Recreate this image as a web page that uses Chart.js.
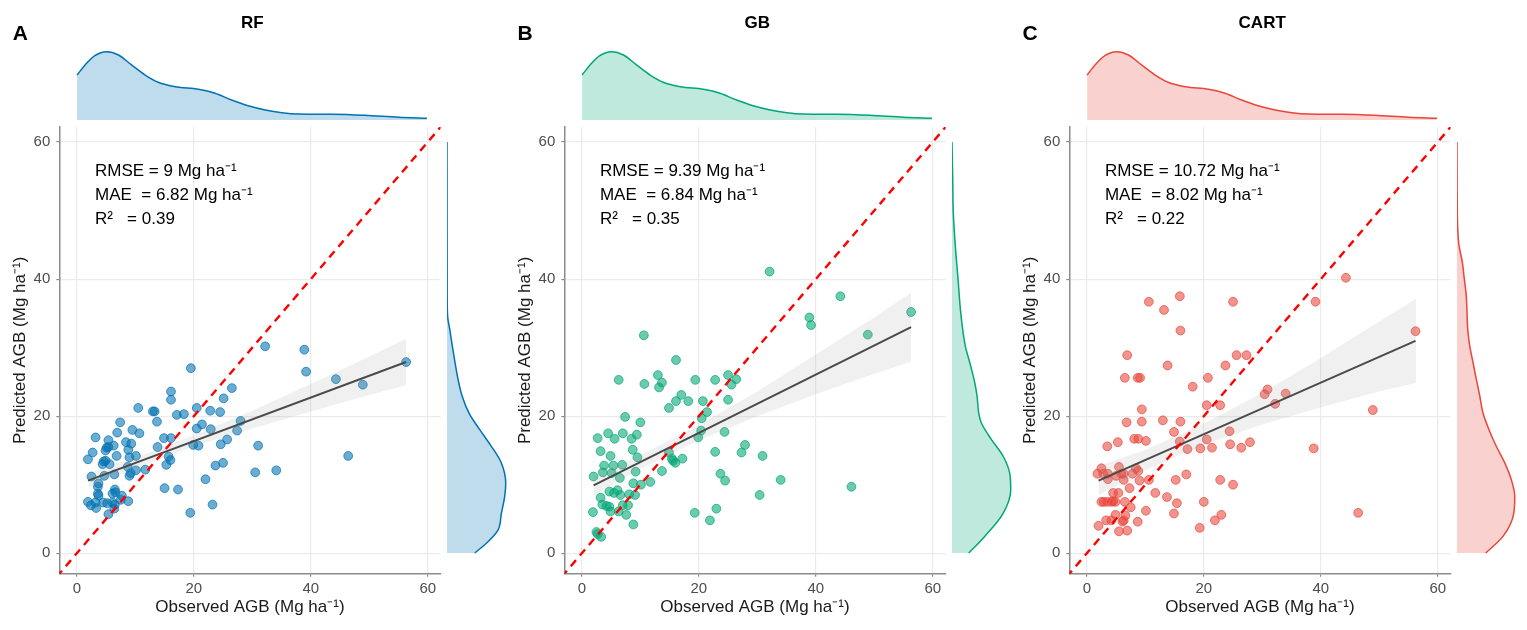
<!DOCTYPE html>
<html>
<head>
<meta charset="utf-8">
<script src="https://cdn.jsdelivr.net/npm/chart.js@4.4.1/dist/chart.umd.min.js"></script>
<style>
body { margin: 0; width: 1527px; height: 630px; position: relative; background: #fff; overflow: hidden;
       font-family: 'Liberation Sans', Arial, sans-serif; }
canvas { position: absolute; }
.lbl { position: absolute; white-space: pre; color: #000; line-height: 1; }
</style>
</head>
<body>
<script>
// model names, letters and accuracy stats
const modelNames = ['RF', 'GB', 'CART'];
const panelLetters = ['A', 'B', 'C'];
const rmse = [9, 9.39, 10.72];
const mae = [6.82, 6.84, 8.02];
const r2 = [0.39, 0.35, 0.22];
const tickValues = [0, 20, 40, 60];

// observed vs predicted (Mg ha-1)
const rfPoints = [[32.2,30.2],[19.5,27.0],[26.5,24.1],[16.1,23.6],[16.1,22.4],[25.1,22.6],[10.5,21.2],[13.0,20.7],[13.3,20.7],
  [20.5,21.2],[22.8,20.8],[24.5,20.6],[17.1,20.2],[18.3,20.3],[7.4,19.1],[13.7,19.2],[21.4,18.8],[28.0,19.3],[6.9,17.6],
  [9.5,18.0],[10.7,17.5],[20.5,18.2],[22.9,18.1],[27.4,17.9],[3.2,16.9],[5.4,16.5],[14.9,16.8],[16.1,16.8],[25.7,16.6],
  [8.4,16.2],[9.3,16.0],[6.3,15.7],[5.1,15.4],[5.4,15.5],[4.9,15.0],[2.7,14.7],[1.9,13.7],[6.8,14.2],[8.8,15.1],[9.0,14.0],
  [10.1,14.2],[13.8,15.5],[19.9,15.8],[20.8,15.7],[24.6,15.9],[31.0,15.7],[4.6,13.4],[4.9,13.5],[4.4,13.0],[5.6,13.0],
  [15.7,14.1],[16.0,13.6],[15.3,12.9],[11.7,12.2],[10.1,12.1],[8.7,12.6],[23.7,12.8],[25.0,13.2],[30.5,11.8],[34.1,12.1],
  [2.5,11.2],[4.7,11.3],[6.4,11.5],[9.0,11.3],[9.2,11.7],[22.0,10.8],[3.7,10.2],[3.6,9.7],[3.6,8.7],[3.7,8.4],[6.5,9.3],
  [6.1,8.7],[6.6,8.9],[7.7,8.4],[15.0,9.5],[17.3,9.3],[1.9,7.5],[2.4,7.0],[3.3,6.6],[3.2,7.4],[4.5,7.4],[5.2,7.3],[6.1,7.4],
  [7.5,7.8],[8.8,7.6],[6.5,7.1],[6.4,6.5],[5.4,5.7],[23.2,7.1],[19.4,5.9],[38.9,29.7],[39.2,26.5],[44.3,25.4],[48.9,24.6],
  [56.3,27.9],[46.4,14.2]];
const gbPoints = [[10.6,31.8],[16.1,28.2],[6.3,25.3],[13.0,26.0],[13.7,24.9],[10.7,24.7],[13.2,24.2],[19.4,25.3],[22.8,25.3],
  [25.0,26.0],[26.4,25.4],[25.6,24.6],[17.0,23.1],[16.1,22.2],[18.2,22.2],[20.7,22.2],[25.0,22.4],[14.9,21.2],[21.4,20.6],
  [7.4,19.9],[10.0,19.1],[20.5,19.7],[20.4,17.9],[24.4,17.7],[2.7,16.8],[4.5,17.5],[5.6,16.7],[7.0,17.5],[8.5,16.7],[9.4,17.3],
  [19.9,16.9],[3.2,14.9],[8.7,15.1],[4.9,14.2],[9.5,14.0],[14.9,14.7],[15.4,13.8],[15.6,13.5],[16.0,13.2],[17.2,13.8],
  [22.8,14.8],[27.3,14.7],[27.9,15.8],[30.9,14.2],[3.8,12.8],[5.4,12.8],[6.9,12.9],[2.0,11.2],[3.6,11.8],[5.1,11.7],[6.5,11.0],
  [9.2,11.9],[13.7,12.0],[23.7,11.6],[24.5,10.6],[8.8,10.2],[10.1,10.0],[11.7,10.4],[4.7,9.0],[5.5,8.8],[6.1,9.2],[6.6,8.5],
  [8.1,8.6],[9.1,8.5],[3.2,8.1],[3.5,7.1],[4.2,6.9],[4.7,6.8],[4.9,6.1],[6.3,6.1],[7.0,7.0],[7.9,7.0],[7.6,5.6],[1.9,6.0],
  [8.8,4.2],[19.3,5.9],[23.0,6.5],[21.9,4.8],[30.4,8.5],[2.5,3.1],[2.7,2.8],[3.3,2.4],[32.1,41.1],[44.2,37.5],[38.9,34.4],
  [39.2,33.3],[56.3,35.2],[48.9,31.9],[46.1,9.7],[34.0,10.7]];
const cartPoints = [[16.0,32.5],[10.6,36.7],[13.2,35.5],[15.9,37.5],[6.9,28.9],[6.5,25.6],[8.7,25.6],[9.1,25.6],[13.8,27.4],
  [18.1,24.3],[20.7,25.6],[23.7,27.4],[25.6,28.9],[27.3,28.9],[20.5,21.6],[22.8,21.6],[30.4,23.2],[30.9,23.9],[32.2,21.8],
  [34.0,23.3],[9.4,21.0],[6.8,19.1],[9.4,19.2],[13.0,19.4],[16.0,19.2],[14.9,17.7],[8.1,16.7],[8.8,16.7],[10.1,16.4],[5.3,16.2],
  [3.5,15.6],[15.9,16.3],[17.2,15.2],[19.4,15.3],[20.5,16.6],[21.4,15.4],[24.4,17.8],[24.5,15.9],[26.4,15.4],[27.9,16.2],
  [1.8,11.6],[2.5,12.4],[2.8,11.6],[3.6,11.6],[3.6,10.8],[5.0,11.3],[5.5,12.6],[5.9,11.6],[6.3,11.6],[6.3,10.7],[7.8,11.6],
  [8.4,12.4],[8.8,12.0],[9.0,10.6],[10.6,10.7],[7.3,9.5],[15.2,10.7],[17.0,11.5],[22.8,10.7],[25.0,10.0],[4.5,8.8],[5.4,8.8],
  [2.5,7.5],[2.9,7.5],[3.5,7.5],[4.2,7.5],[4.5,7.6],[4.9,7.5],[6.5,7.5],[7.5,6.7],[11.7,8.8],[13.7,8.2],[15.4,7.3],[20.0,7.5],
  [10.1,6.2],[14.9,5.8],[4.9,5.6],[6.6,5.5],[6.3,4.8],[6.1,4.6],[3.3,4.8],[4.2,4.8],[2.0,4.0],[8.7,4.6],[5.5,3.2],[6.9,3.3],
  [19.3,3.7],[21.9,4.8],[23.0,5.6],[44.3,40.2],[39.1,36.7],[25.0,36.7],[56.2,32.4],[48.9,20.9],[46.4,5.9],[38.8,15.3]];

// fitted lines (start, end) and confidence band
const rfFit = [[1.9, 10.6], [56.3, 27.9]];
const gbFit = [[2.0, 9.9], [56.3, 33.0]];
const cartFit = [[2.0, 10.6], [56.2, 31.0]];
const bandX = [2, 10, 20, 30, 40, 50, 56.3];
const rfBandLow = [9.5, 12.45, 15.6, 18.2, 20.7, 23.1, 24.5];
const rfBandHigh = [11.7, 13.95, 17.2, 20.8, 24.7, 28.7, 31.3];
const gbBandLow = [8.45, 12.3, 16.5, 20.0, 23.2, 26.2, 27.95];
const gbBandHigh = [11.35, 14.3, 18.7, 23.6, 29.0, 34.4, 38.05];
const cartBandLow = [8.45, 12.15, 15.85, 18.8, 21.3, 23.6, 24.85];
const cartBandHigh = [12.75, 15.05, 18.95, 23.4, 28.5, 33.8, 37.15];

// marginal densities: observed (top, same for all) and predicted (right)
const obsDensX = [0, 1.35, 3.0, 5.0, 7.0, 9.2, 11.5, 13.7, 16.6, 20.5, 23.3, 26.1, 28.9, 31.8, 34.6, 37.4, 43.0, 48.6, 54.3, 59.1];
const obsDens = [0.0299, 0.0366, 0.0428, 0.0454, 0.0432, 0.0366, 0.0299, 0.0251, 0.0221, 0.0204, 0.0178, 0.0133, 0.0095,
  0.0067, 0.0049, 0.0040, 0.0038, 0.0031, 0.0018, 0.0011];
const rfDensY = [0, 1.4, 3.3, 5.7, 8.2, 10.1, 13.0, 15.4, 17.8, 20.2, 22.7, 25.1, 27.5, 29.9, 32.3, 34.0, 37.0, 45, 59.3];
const rfDens = [0.0305, 0.0433, 0.0561, 0.0598, 0.0635, 0.0646, 0.0598, 0.0488, 0.0360, 0.0242, 0.0165, 0.0121, 0.0088,
  0.0058, 0.0030, 0.0008, 0.0002, 0.0001, 0];
const gbDensY = [0, 2.4, 5.7, 9.1, 11.5, 14.0, 16.4, 18.8, 20.2, 22.7, 24.6, 27.5, 29.9, 34.7, 39.6, 44.4, 49.2, 54, 59.3];
const gbDens = [0.0184, 0.0360, 0.0561, 0.0646, 0.0635, 0.0561, 0.0432, 0.0322, 0.0294, 0.0275, 0.0250, 0.0195, 0.0146,
  0.0096, 0.0066, 0.0036, 0.0014, 0.0008, 0];
const cartDensY = [0, 2.4, 5.7, 8.2, 10.6, 13.0, 15.4, 17.8, 20.2, 22.7, 25.1, 27.5, 29.9, 32.3, 34.7, 37.1, 39.6, 42.0,
  44.4, 46.8, 51.6, 59.3];
const cartDens = [0.0316, 0.0506, 0.0624, 0.0635, 0.0597, 0.0525, 0.0432, 0.0352, 0.0286, 0.0250, 0.0212, 0.0176, 0.0140,
  0.0118, 0.0110, 0.0102, 0.0080, 0.0058, 0.0022, 0.0008, 0.0002, 0];

const panels = [
  {points: rfPoints, fit: rfFit, low: rfBandLow, high: rfBandHigh, densY: rfDensY, dens: rfDens, rgb: '0,114,178'},
  {points: gbPoints, fit: gbFit, low: gbBandLow, high: gbBandHigh, densY: gbDensY, dens: gbDens, rgb: '0,166,118'},
  {points: cartPoints, fit: cartFit, low: cartBandLow, high: cartBandHigh, densY: cartDensY, dens: cartDens, rgb: '232,70,58'}
];

const FONT = "'Liberation Sans', Arial, sans-serif";
const panelLeft = [0, 504.9, 1009.9];
const AREA_L = 59.3, MAIN_TOP = 112, MAIN_H = 518, PAD_T = 10, XAXIS_H = 56.2;
const AX_MIN = -3, AX_MAX = 62.2;

function addCanvas(left, top, w, h) {
  const c = document.createElement('canvas');
  c.style.left = left + 'px';
  c.style.top = top + 'px';
  c.width = w; c.height = h;
  c.style.width = w + 'px'; c.style.height = h + 'px';
  document.body.appendChild(c);
  return c;
}

function addText(txt, left, top, css) {
  const d = document.createElement('div');
  d.className = 'lbl';
  d.textContent = txt;
  d.style.left = left + 'px';
  d.style.top = top + 'px';
  Object.assign(d.style, css);
  document.body.appendChild(d);
  return d;
}

const fixTicks = s => { s.ticks = tickValues.map(v => ({value: v})); };
const baseOpts = {
  responsive: false, animation: false, events: [],
  plugins: {legend: {display: false}, tooltip: {enabled: false}}
};
const axisStyle = {
  type: 'linear', min: AX_MIN, max: AX_MAX, afterBuildTicks: fixTicks,
  grid: {color: '#ebebeb', lineWidth: 1.2, tickColor: '#8c8c8c', tickLength: 3},
  border: {color: '#8c8c8c', width: 1.5},
  ticks: {color: '#4d4d4d', font: {size: 15, family: FONT}, maxRotation: 0}
};

panels.forEach((p, i) => {
  const L = panelLeft[i];

  // main scatter panel
  new Chart(addCanvas(L, MAIN_TOP, 446, MAIN_H), {
    type: 'line',
    data: {datasets: [
      {data: [{x: -5, y: -5}, {x: 65, y: 65}], borderColor: '#ff0000', borderWidth: 2.4,
       borderDash: [8, 6], pointRadius: 0, order: 0},
      {data: p.fit.map(f => ({x: f[0], y: f[1]})), borderColor: '#4a4a4a', borderWidth: 2,
       pointRadius: 0, order: 1},
      {data: bandX.map((x, k) => ({x: x, y: p.high[k]})), borderWidth: 0, pointRadius: 0,
       fill: '+1', backgroundColor: 'rgba(153,153,153,0.15)', order: 2},
      {data: bandX.map((x, k) => ({x: x, y: p.low[k]})), borderWidth: 0, pointRadius: 0,
       fill: false, order: 2},
      {data: p.points.map(q => ({x: q[0], y: q[1]})), showLine: false, pointRadius: 4.4,
       backgroundColor: 'rgba(' + p.rgb + ',0.58)', borderColor: 'rgba(' + p.rgb + ',0.7)',
       borderWidth: 1, order: 3}
    ]},
    options: Object.assign({}, baseOpts, {
      layout: {padding: {top: PAD_T, right: 0.7, left: 0, bottom: 0}},
      scales: {
        x: Object.assign({}, axisStyle, {
          afterFit: s => { s.height = XAXIS_H; },
          ticks: Object.assign({}, axisStyle.ticks, {padding: 3}),
          title: {display: true, text: 'Observed AGB (Mg ha⁻¹)', color: '#1a1a1a',
                  font: {size: 17, family: FONT}, padding: {top: 0, bottom: 12}}
        }),
        y: Object.assign({}, axisStyle, {
          afterFit: s => { s.width = AREA_L; },
          ticks: Object.assign({}, axisStyle.ticks, {padding: 6}),
          title: {display: true, text: 'Predicted AGB (Mg ha⁻¹)', color: '#1a1a1a',
                  font: {size: 17, family: FONT}, padding: {top: 10, bottom: 0}}
        })
      }
    })
  });

  // top marginal: observed density
  new Chart(addCanvas(L, 40, 446, 80), {
    type: 'line',
    data: {datasets: [{
      data: obsDensX.map((x, k) => ({x: x, y: obsDens[k]})),
      borderColor: 'rgb(' + p.rgb + ')', borderWidth: 1.5, backgroundColor: 'rgba(' + p.rgb + ',0.25)',
      fill: 'origin', pointRadius: 0, cubicInterpolationMode: 'monotone', clip: false
    }]},
    options: Object.assign({}, baseOpts, {
      layout: {padding: {left: AREA_L, right: 0.7, top: 0, bottom: 0}},
      scales: {
        x: {type: 'linear', display: false, min: AX_MIN, max: AX_MAX},
        y: {type: 'linear', display: false, min: 0, max: 0.0532}
      }
    })
  });

  // right marginal: predicted density
  new Chart(addCanvas(L + AREA_L + 388, MAIN_TOP, 69, MAIN_H), {
    type: 'line',
    data: {datasets: [{
      data: p.densY.map((y, k) => ({x: p.dens[k], y: y})),
      borderColor: 'rgb(' + p.rgb + ')', borderWidth: 1.5, backgroundColor: 'rgba(' + p.rgb + ',0.25)',
      fill: 'origin', pointRadius: 0, cubicInterpolationMode: 'monotone', clip: false
    }]},
    options: Object.assign({}, baseOpts, {
      indexAxis: 'y',
      layout: {padding: {left: 0, right: 3, top: PAD_T, bottom: XAXIS_H}},
      scales: {
        x: {type: 'linear', display: false, min: 0, max: 0.0726},
        y: {type: 'linear', display: false, min: AX_MIN, max: AX_MAX}
      }
    })
  });

  // labels
  addText(panelLetters[i], L + 12.7, 22.2, {fontSize: '21px', fontWeight: 'bold'});
  const t = addText(modelNames[i], 0, 13.9, {fontSize: '17px', fontWeight: 'bold', width: '200px', textAlign: 'center'});
  t.style.left = (L + 252.3 - 100) + 'px';
  const sx = L + AREA_L + 35.7;
  addText('RMSE = ' + rmse[i] + ' Mg ha⁻¹', sx, 162.3, {fontSize: '17px'});
  addText('MAE  = ' + mae[i] + ' Mg ha⁻¹', sx, 185.6, {fontSize: '17px'});
  addText('R²   = ' + r2[i], sx, 209.6, {fontSize: '17px'});
});
</script>
</body>
</html>
